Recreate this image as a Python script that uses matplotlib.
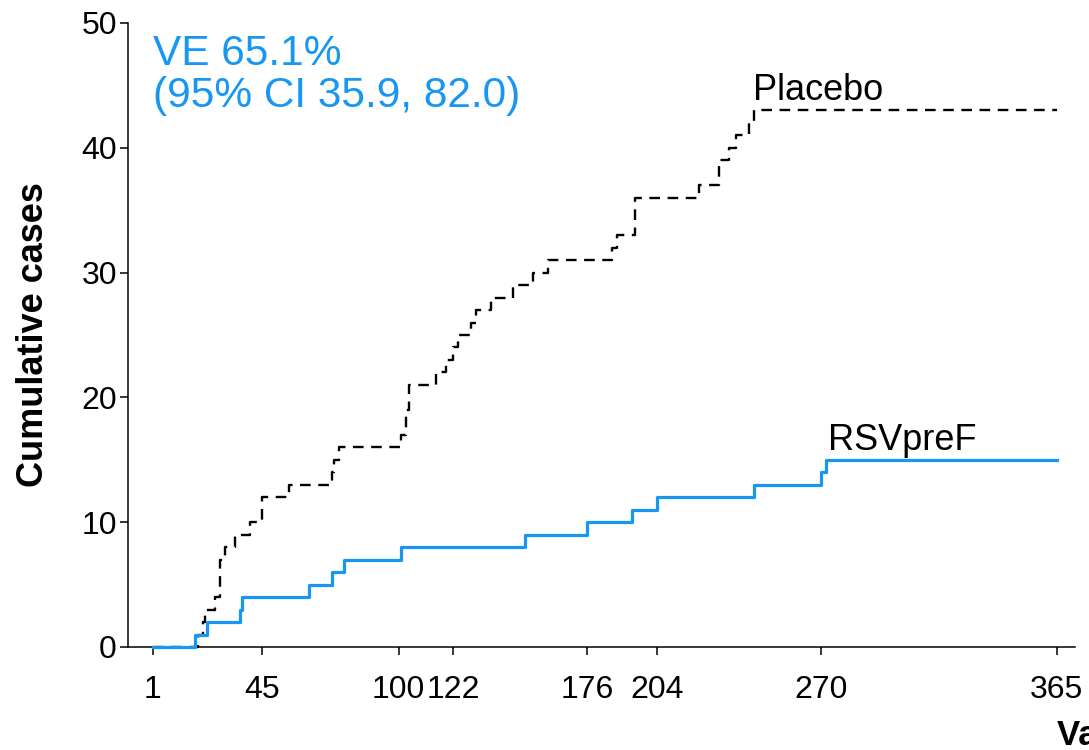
import matplotlib
matplotlib.use("Agg")
import matplotlib.pyplot as plt

plt.rcParams['font.family'] = ['Liberation Sans', 'DejaVu Sans']

# Cumulative case counts: day of each step and running total after it
placebo_days = [19, 21, 22, 26, 28, 30, 34, 40, 45, 56, 73, 74, 76, 101, 103, 104,
                115, 119, 122, 124, 129, 131, 137, 146, 154, 160, 186, 188, 195,
                221, 229, 233, 236, 241, 243]
placebo_cum = [1, 2, 3, 4, 7, 8, 9, 10, 12, 13, 14, 15, 16, 17, 19, 21,
               22, 23, 24, 25, 26, 27, 28, 29, 30, 31, 32, 33, 36,
               37, 39, 40, 41, 42, 43]

vaccine_days = [18, 23, 36, 37, 64, 73, 78, 101, 151, 176, 194, 204, 243, 270, 272]
vaccine_cum = [1, 2, 3, 4, 5, 6, 7, 8, 9, 10, 11, 12, 13, 14, 15]

start_day = 1
end_day = 365
x_ticks = [1, 45, 100, 122, 176, 204, 270, 365]
y_ticks = [0, 10, 20, 30, 40, 50]

group_labels = ["Placebo", "RSVpreF"]
efficacy_text = "VE 65.1%\n(95% CI 35.9, 82.0)"

BLUE = "#1796f2"

fig = plt.figure(figsize=(10.89, 7.5), dpi=100)
ax = fig.add_axes([128 / 1089, 103 / 750, (1075 - 128) / 1089, (727 - 103) / 750])


def curve(days, cum):
    xs = [start_day] + list(days) + [end_day]
    ys = [0] + list(cum) + [cum[-1]]
    return xs, ys


px, py = curve(placebo_days, placebo_cum)
vx, vy = curve(vaccine_days, vaccine_cum)

ax.step(px, py, where='post', color='black', lw=1.7, dashes=(4.5, 3.2),
        zorder=3, clip_on=False)
ax.step(vx, vy, where='post', color=BLUE, lw=2.3, zorder=4, clip_on=False)

ax.set_xlim(-9, 372.3)
ax.set_ylim(0, 50)
ax.set_xticks(x_ticks)
ax.set_xticklabels([str(t) for t in x_ticks])
ax.set_yticks(y_ticks)

for side in ('top', 'right'):
    ax.spines[side].set_visible(False)
for side in ('left', 'bottom'):
    ax.spines[side].set_linewidth(1.1)

ax.tick_params(axis='both', direction='out', length=6, width=1.1, labelsize=23)
ax.tick_params(axis='x', pad=14)
ax.tick_params(axis='y', pad=2)

ax.set_ylabel("Cumulative cases", fontsize=26, fontweight='bold', labelpad=22)

ax.text(1, 49.1, efficacy_text, color=BLUE, fontsize=30.5, ha='left', va='top',
        linespacing=1.05)
ax.text(242.6, 43.85, group_labels[0], color='black', fontsize=26,
        ha='left', va='baseline')
ax.text(272.8, 15.8, group_labels[1], color='black', fontsize=26,
        ha='left', va='baseline')

fig.text(1057 / 1089, 5 / 750, "Vaccination to illness onset (days)",
         fontsize=25, fontweight='bold', ha='left', va='baseline')

fig.savefig("out.png", dpi=100)
